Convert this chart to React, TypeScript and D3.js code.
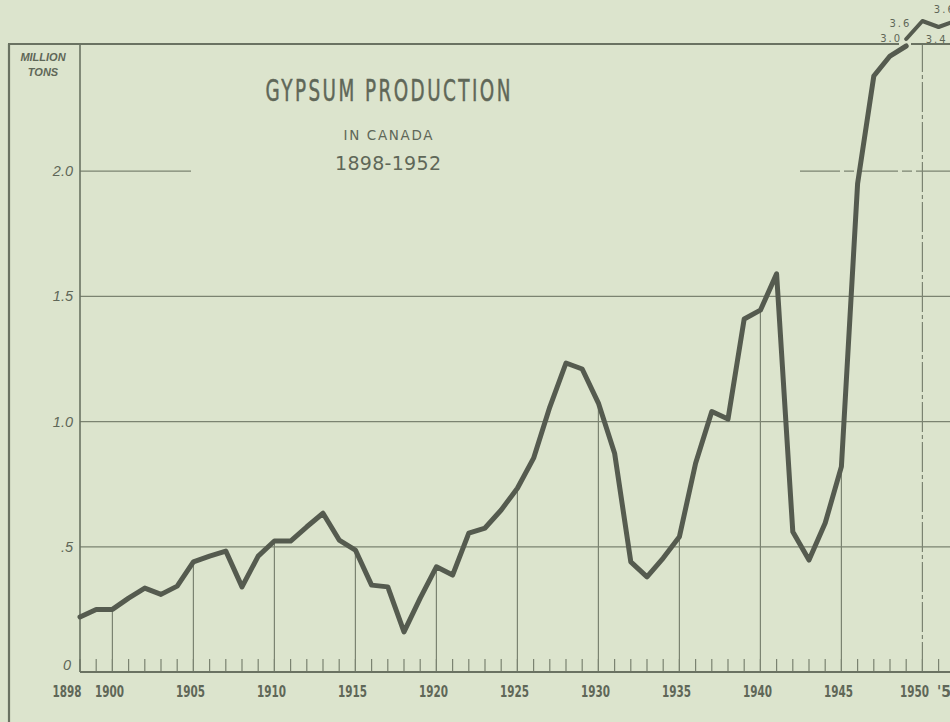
import * as d3 from 'd3';

// Gypsum production in Canada, million tons
const years = d3.range(1898, 1953);
const production = [
  0.22, 0.25, 0.25, 0.295, 0.335, 0.31, 0.343, 0.44, 0.463, 0.483,
  0.34, 0.463, 0.523, 0.523, 0.58, 0.634, 0.527, 0.487, 0.347, 0.34,
  0.16, 0.295, 0.42, 0.387, 0.555, 0.575, 0.647, 0.734, 0.854, 1.058,
  1.234, 1.21, 1.074, 0.874, 0.44, 0.38, 0.455, 0.54, 0.834, 1.04,
  1.01, 1.41, 1.445, 1.59, 0.56, 0.447, 0.595, 0.82, 1.95, 2.38,
  2.46, 3.0, 3.6, 3.4, 3.6,
];
// years drawn above the frame, with their printed values
const insetYears = [1949, 1950, 1951, 1952];
const insetLabels = ['3.0', '3.6', '3.4', '3.6'];

const yTickValues = [0, 0.5, 1.0, 1.5, 2.0];
const yTickLabels = ['0', '.5', '1.0', '1.5', '2.0'];
const xTickYears = [1898, 1900, 1905, 1910, 1915, 1920, 1925, 1930, 1935, 1940, 1945, 1950, 1952];
const xTickLabels = ['1898', '1900', '1905', '1910', '1915', '1920', '1925', '1930', '1935', '1940', '1945', '1950', "'52"];
const gridYears = [1900, 1905, 1910, 1915, 1920, 1925, 1930, 1935, 1940, 1945];

const W = 950, H = 722;
const BG = '#dce4cd';
const INK = '#555b4f';
const GRID = '#7b8371';
const TXT = '#5f6758';
const FRAME = '#6a7262';

export default function App() {
  const x = d3.scaleLinear().domain([1898, 1952]).range([80, 954.8]);
  const y = d3.scaleLinear().domain([0, 2.5]).range([672, 46]).clamp(true);
  const yInset = d3.scaleLinear().domain([3.0, 3.6]).range([39, 21]);

  const valueAt = (yr: number) => production[years.indexOf(yr)];

  const mainData = years.map((yr, i) => ({ yr, v: production[i] })).filter(d => d.yr <= 1949);
  const insetData = insetYears.map(yr => ({ yr, v: valueAt(yr) }));

  const line = d3.line<{ yr: number; v: number }>().x(d => x(d.yr)).y(d => y(d.v));
  const insetLine = d3.line<{ yr: number; v: number }>().x(d => x(d.yr)).y(d => yInset(d.v));

  // label offsets for the values printed above the frame
  const insetOffsets = [[-15, 3], [-22, 6], [-2, 16], [-10, -8]];

  const xLabelShift = (yr: number) => (yr === 1898 ? -13 : yr === 1950 ? -8 : yr === 1952 ? -6 : -3);

  return (
    <svg width={W} height={H} style={{ position: 'absolute', left: 0, top: 0, background: BG }}>
      <rect x={0} y={0} width={W} height={H} fill={BG} />

      {/* horizontal grid */}
      {[0.5, 1.0, 1.5].map(v => (
        <line key={v} x1={80} x2={W} y1={y(v)} y2={y(v)} stroke={GRID} strokeWidth={1.2} />
      ))}
      <line x1={80} x2={191} y1={y(2.0)} y2={y(2.0)} stroke={GRID} strokeWidth={1.2} />
      <line x1={800} x2={W} y1={y(2.0)} y2={y(2.0)} stroke={GRID} strokeWidth={1.2} strokeDasharray="40 4 10 4" />

      {/* vertical grid up to the curve */}
      {gridYears.map(yr => (
        <line key={yr} x1={x(yr)} x2={x(yr)} y1={y(0)} y2={y(valueAt(yr))} stroke={GRID} strokeWidth={1.2} />
      ))}
      <line x1={x(1950)} x2={x(1950)} y1={y(0)} y2={44} stroke={GRID} strokeWidth={1.2} strokeDasharray="30 3 4 3" />

      {/* yearly ticks */}
      {years.map(yr => (
        <line key={yr} x1={x(yr)} x2={x(yr)} y1={y(0)} y2={y(0) - 13} stroke={GRID} strokeWidth={1.2} />
      ))}

      {/* frame */}
      <line x1={9} x2={9} y1={44} y2={H} stroke={FRAME} strokeWidth={2.2} />
      <line x1={8} x2={899} y1={44} y2={44} stroke={FRAME} strokeWidth={2} />
      <line x1={911} x2={W} y1={44} y2={44} stroke={FRAME} strokeWidth={2} />
      <line x1={80} x2={80} y1={44} y2={y(0)} stroke={FRAME} strokeWidth={1.6} />
      <line x1={80} x2={W} y1={y(0)} y2={y(0)} stroke={FRAME} strokeWidth={2} />

      {/* data */}
      <path d={line(mainData) ?? ''} fill="none" stroke={INK} strokeWidth={5} strokeLinejoin="round" strokeLinecap="round" />
      <path d={insetLine(insetData) ?? ''} fill="none" stroke={INK} strokeWidth={4} strokeLinejoin="round" strokeLinecap="round" />
      {insetData.map((d, i) => (
        <text key={d.yr} x={x(d.yr) + insetOffsets[i][0]} y={yInset(d.v) + insetOffsets[i][1]}
          textAnchor="middle" fontFamily="'DejaVu Sans', sans-serif" fontSize={10} letterSpacing={2} fill={TXT}>
          {insetLabels[i]}
        </text>
      ))}

      {/* y axis labels */}
      <text x={43} y={61} textAnchor="middle" fontFamily="'Liberation Sans', Arial, sans-serif" fontStyle="italic" fontWeight="bold" fontSize={11} fill={TXT}>MILLION</text>
      <text x={43} y={76} textAnchor="middle" fontFamily="'Liberation Sans', Arial, sans-serif" fontStyle="italic" fontWeight="bold" fontSize={11} fill={TXT}>TONS</text>
      {yTickValues.map((v, i) => (
        <text key={v} x={v === 0 ? 71 : 73} y={v === 0 ? y(v) - 2 : y(v) + 5} textAnchor="end"
          fontFamily="'Liberation Sans', Arial, sans-serif" fontStyle="italic" fontSize={14.5} fill={TXT}>
          {yTickLabels[i]}
        </text>
      ))}

      {/* x axis labels */}
      {xTickYears.map((yr, i) => (
        <text key={yr} x={x(yr) + xLabelShift(yr)} y={697} textAnchor="middle"
          fontFamily="'DejaVu Sans Condensed', 'Liberation Sans Narrow', sans-serif" fontWeight="bold" fontSize={15.5}
          textLength={xTickLabels[i].length === 4 ? 29 : undefined} lengthAdjust="spacingAndGlyphs" fill={TXT}>
          {xTickLabels[i]}
        </text>
      ))}

      {/* title */}
      <g transform="translate(388,101) scale(0.68,1)">
        <text x={0} y={0} textAnchor="middle" fontFamily="'DejaVu Sans Condensed', sans-serif"
          fontSize={30} textLength={360} lengthAdjust="spacing" fill={TXT} stroke={TXT} strokeWidth={0.5}>GYPSUM PRODUCTION</text>
      </g>
      <text x={388} y={140} textAnchor="middle" fontFamily="'DejaVu Sans', sans-serif" fontSize={13.5}
        textLength={89} lengthAdjust="spacing" fill={TXT}>IN CANADA</text>
      <text x={388} y={170} textAnchor="middle" fontFamily="'DejaVu Sans', sans-serif" fontSize={19}
        textLength={106} lengthAdjust="spacing" fill={TXT}>1898-1952</text>
    </svg>
  );
}
